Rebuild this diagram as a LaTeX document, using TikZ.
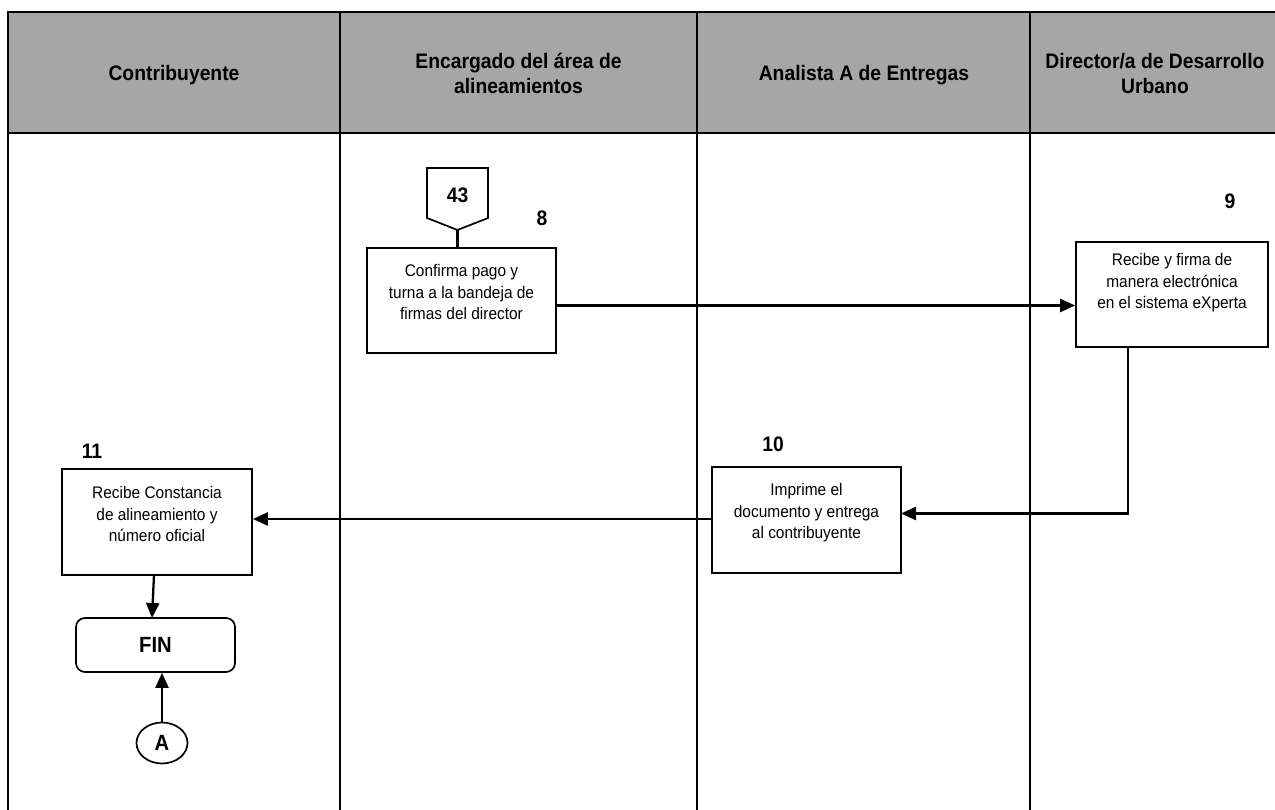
\documentclass[tikz,border=0pt]{standalone}
\usepackage{fontspec}
\setmainfont[FakeStretch=0.92]{Liberation Sans}
\usetikzlibrary{arrows.meta,shapes.geometric}
\begin{document}
\begin{tikzpicture}[x=1pt,y=-1pt,
  frameline/.style={line width=2.4pt,black},
  headtext/.style={font=\fontsize{21}{25}\selectfont\bfseries,align=center},
  boxshape/.style={draw,line width=1.7pt,rectangle,inner sep=0pt},
  boxtext/.style={font=\fontsize{16.8}{21.5}\selectfont,align=center,inner sep=0pt},
  numtext/.style={font=\fontsize{21}{22}\selectfont\bfseries,inner sep=0pt},
  conn/.style={line width=2.3pt},
  arr/.style={conn,-{Triangle[length=15pt,width=13pt]}}]
\useasboundingbox (0,0) rectangle (1275,810);
% header
\fill[black!35] (8,12) rectangle (1280,133);
\draw[frameline] (8,12) -- (1280,12);
\draw[frameline] (8,133) -- (1280,133);
\draw[frameline] (8,10.8) -- (8,815);
\draw[frameline] (340,12) -- (340,815);
\draw[frameline] (697,12) -- (697,815);
\draw[frameline] (1030,12) -- (1030,815);
\node[headtext] (h1) at (174,75) {Contribuyente};
\node[headtext] (h2) at (518.5,73) {Encargado del área de\\alineamientos};
\node[headtext] (h3) at (864,75) {Analista A de Entregas};
\node[headtext] (h4) at (1155,73) {Director/a de Desarrollo\\Urbano};
% off-page connector 43
\draw[line width=1.7pt,fill=white] (427,168) -- (488,168) -- (488,218) -- (457.5,230) -- (427,218) -- cycle;
\coordinate (c43) at (457.5,230);
\node[numtext] (t43) at (457.5,195) {43};
% box 8
\node[boxshape,minimum width=189pt,minimum height=105pt] (b8) at (461.5,300.5) {};
\node[boxtext] (t8) at (461.5,292) {Confirma pago y\\turna a la bandeja de\\firmas del director};
\node[numtext] (n8) at (542,218) {8};
\draw[line width=2.3pt] (c43) -- (c43 |- b8.north);
% box 9
\node[boxshape,minimum width=192pt,minimum height=105pt] (b9) at (1172,294.5) {};
\node[boxtext] (t9) at (1172,283) {Recibe y firma de\\manera electrónica\\en el sistema eXperta};
\node[numtext] (n9) at (1230,201) {9};
% box 10
\node[boxshape,minimum width=189pt,minimum height=106pt] (b10) at (806.5,520) {};
\node[boxtext] (t10) at (806.5,513) {Imprime el\\documento y entrega\\al contribuyente};
\node[numtext] (n10) at (773,444) {10};
% box 11
\node[boxshape,minimum width=190pt,minimum height=106pt] (b11) at (157,522) {};
\node[boxtext] (t11) at (157,514) {Recibe Constancia\\de alineamiento y\\número oficial};
\node[numtext] (n11) at (92,451) {11};
% FIN and A
\node[draw,line width=1.7pt,rounded corners=9pt,minimum width=159pt,minimum height=54pt,inner sep=0pt,font=\fontsize{22}{24}\selectfont\bfseries] (fin) at (155.5,645) {FIN};
\node[draw,line width=1.7pt,ellipse,minimum width=51pt,minimum height=41pt,inner sep=0pt,font=\fontsize{22}{24}\selectfont\bfseries] (A) at (162,743) {A};
% connectors
\coordinate (p8) at (556,305.5);
\draw[arr] (p8) -- (p8 -| b9.west);
\coordinate (d9) at (1128,347);
\coordinate (e10) at (901,513.5);
\draw[arr] (d9) -- (d9 |- e10) -- (e10);
\coordinate (w10) at (712,519);
\draw[arr] (w10) -- (w10 -| b11.east);
\draw[arr] (154,575) -- (152,618);
\draw[arr] (A.north) -- (A.north |- fin.south);
\end{tikzpicture}
\end{document}
